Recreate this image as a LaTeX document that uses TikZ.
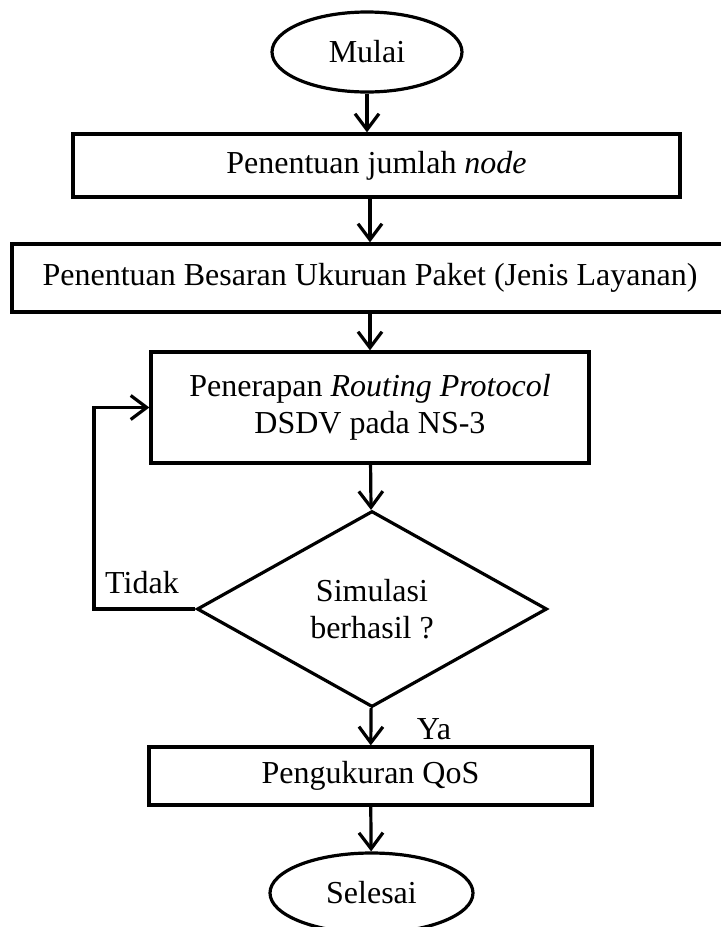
\documentclass[tikz,border=0pt]{standalone}
\usepackage{fontspec}
\setmainfont{Liberation Serif}
\usepackage{tikz}
\usetikzlibrary{positioning, calc, shapes.geometric, arrows.meta}
\tikzstyle{Arrow} = [
%open arrow head as in the flowchart:
line width = 1.6pt,
-{Straight Barb[length = 8pt, width = 12pt, line width = 1.6pt]}
]

\begin{document}
\begin{tikzpicture}[x = 0.5pt, y = -0.5pt,
				font = \fontsize{16}{18.5}\selectfont,
				terminal/.style = {ellipse, line width = 1.6pt, draw, text centered, inner sep = 0pt},
				process/.style = {rectangle, line width = 1.6pt, draw, text centered, inner sep = 0pt},
				decision/.style = {diamond, line width = 1.6pt, draw, text centered, inner sep = 0pt, aspect = 1.78},
			]
			\useasboundingbox (0,0) rectangle (720,927);
			\node[terminal, minimum width = 95pt, minimum height = 40pt](MU) at (367,52){Mulai};
			\node[process, minimum width = 303.5pt, minimum height = 31.5pt](JN) at (376.5,165.5){Penentuan jumlah \textit{node}};
			\node[process, minimum width = 358pt, minimum height = 34pt](UP) at (370,278){Penentuan Besaran Ukuruan Paket (Jenis Layanan)};
			\node[process, minimum width = 219pt, minimum height = 55.5pt, align = center](RP) at (370,407.5){Penerapan \textit{Routing Protocol}\\DSDV pada NS-3};
			\node[decision, minimum width = 175pt, minimum height = 98pt, align = center](SB) at (372,609){Simulasi\\berhasil ?};
			\node[process, minimum width = 221.5pt, minimum height = 29pt](QS) at (370.5,776){Pengukuran QoS};
			\node[terminal, minimum width = 101.5pt, minimum height = 40pt](SL) at (371.5,893){Selesai};

			\coordinate(BK) at (94,609);
			\node(TD) at (142,583){Tidak};
			\node(YA) at (434,729){Ya};

			\draw[Arrow](MU.south)--(MU.south |- JN.north);
			\draw[Arrow](JN.south -| RP.north)--(UP.north -| RP.north);
			\draw[Arrow](UP.south -| RP.north)--(RP.north);
			\draw[Arrow](RP)--(SB);
			\draw[Arrow](SB)--(QS);
			\draw[Arrow](QS)--(SL);
			\draw[Arrow](SB.west)--(BK)|-(RP.west);
		\end{tikzpicture}
\end{document}
